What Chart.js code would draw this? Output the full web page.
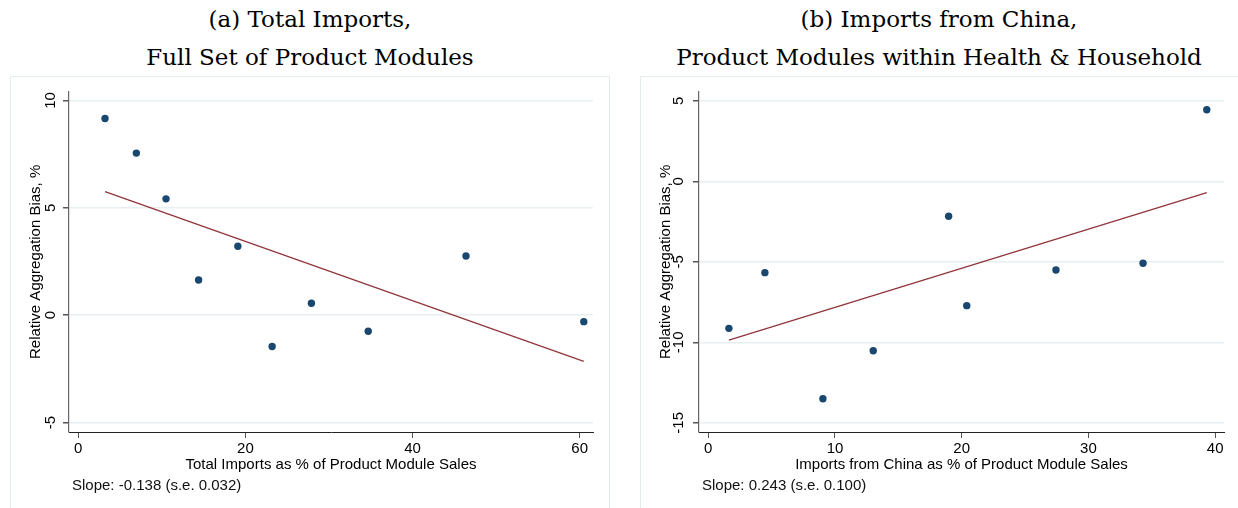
<!DOCTYPE html>
<html>
<head>
<meta charset="utf-8">
<script src="https://cdn.jsdelivr.net/npm/chart.js@4.4.1/dist/chart.umd.min.js"></script>
<style>
  html, body { margin: 0; padding: 0; background: #fff; }
  body { position: relative; width: 1238px; height: 508px; overflow: hidden;
         font-family: "Liberation Sans", Arial, sans-serif; }
  .frame { position: absolute; top: 76px; height: 470px; border: 1px solid #e4ecef; }
  .title { position: absolute; top: 0; text-align: center; color: #000;
           font-family: "DejaVu Serif", serif; font-size: 23px; line-height: 38px; white-space: nowrap; }
  canvas { position: absolute; top: 76px; }
  .note { position: absolute; top: 476px; font-size: 15px; line-height: 18px; color: #111; white-space: nowrap; }
</style>
</head>
<body>
<div class="title" style="left:10px;width:600px;">(a) Total Imports,<br>Full Set of Product Modules</div>
<div class="frame" style="left:10px;width:598px;"></div>
<canvas id="chartA" width="619" height="432" style="left:0px;"></canvas>
<div class="note" style="left:72px;">Slope: -0.138 (s.e. 0.032)</div>

<div class="title" style="left:640px;width:598px;">(b) Imports from China,<br>Product Modules within Health &amp; Household</div>
<div class="frame" style="left:640px;width:600px;"></div>
<canvas id="chartB" width="608" height="432" style="left:630px;"></canvas>
<div class="note" style="left:702px;">Slope: 0.243 (s.e. 0.100)</div>

<script>
// Panel (a): total imports share vs. relative aggregation bias
const importShareA = [3.2, 6.95, 10.5, 14.4, 19.1, 23.2, 27.9, 34.7, 46.4, 60.5];
const biasA        = [9.16, 7.55, 5.42, 1.64, 3.21, -1.46, 0.56, -0.75, 2.76, -0.30];
const slopeA = -0.138;
const interceptA = 6.20;
const xTicksA = [0, 20, 40, 60];
const yTicksA = [-5, 0, 5, 10];

// Panel (b): imports from China share vs. relative aggregation bias
const importShareB = [1.63, 4.47, 9.05, 13.02, 18.97, 20.4, 27.44, 34.31, 39.34];
const biasB        = [-9.13, -5.67, -13.5, -10.52, -2.17, -7.72, -5.51, -5.09, 4.45];
const slopeB = 0.243;
const interceptB = -10.26;
const xTicksB = [0, 10, 20, 30, 40];
const yTicksB = [-15, -10, -5, 0, 5];

const SANS = '"Liberation Sans", Arial, sans-serif';
Chart.defaults.font.family = SANS;
Chart.defaults.color = '#000';

const NAVY = '#1a476f';
const MAROON = '#90353b';

function scatterWithFit(canvasId, cfg) {
  const pts = cfg.xs.map((x, i) => ({ x: x, y: cfg.ys[i] }));
  const lo = Math.min(...cfg.xs), hi = Math.max(...cfg.xs);
  const fit = [lo, hi].map(x => ({ x: x, y: cfg.intercept + cfg.slope * x }));

  return new Chart(document.getElementById(canvasId), {
    type: 'scatter',
    data: {
      datasets: [
        { data: pts, pointRadius: 3.7, pointHoverRadius: 3.7, pointBackgroundColor: NAVY,
          pointBorderWidth: 0, showLine: false, order: 2 },
        { type: 'line', data: fit, borderColor: MAROON, borderWidth: 1.3, pointRadius: 0,
          fill: false, tension: 0, order: 1 }
      ]
    },
    options: {
      responsive: false,
      animation: false,
      events: [],
      layout: { padding: { left: 0, top: 15.7, right: cfg.rightPad, bottom: 26 } },
      plugins: { legend: { display: false }, tooltip: { enabled: false } },
      scales: {
        x: {
          type: 'linear', min: cfg.xMin, max: cfg.xMax,
          afterBuildTicks: s => { s.ticks = cfg.xTicks.map(v => ({ value: v })); },
          afterFit: s => { s.height = 50; },
          grid: { display: true, drawOnChartArea: false, drawTicks: true, tickLength: 6,
                  tickColor: '#555', lineWidth: 1 },
          border: { display: true, color: '#222', width: 1 },
          ticks: { font: { size: 15 }, color: '#000', padding: 2, maxRotation: 0, autoSkip: false },
          title: { display: true, text: cfg.xTitle, font: { size: 15 }, color: '#000',
                   padding: { top: 0, bottom: 8.6 } }
        },
        y: {
          type: 'linear', min: cfg.yMin, max: cfg.yMax,
          afterBuildTicks: s => { s.ticks = cfg.yTicks.map(v => ({ value: v })); },
          afterFit: s => { s.width = 69; },
          grid: { display: true, drawOnChartArea: true, drawTicks: true, tickLength: 6,
                  color: '#e8eff2', lineWidth: 1.5, tickColor: '#555' },
          border: { display: true, color: '#666', width: 1.2 },
          ticks: { font: { size: 15 }, color: '#000', padding: 3.5, minRotation: 90, maxRotation: 90,
                   crossAlign: 'center', autoSkip: false },
          title: { display: true, text: 'Relative Aggregation Bias, %', font: { size: 15 }, color: '#000',
                   padding: { top: 26.6, bottom: 0 } }
        }
      }
    }
  });
}

scatterWithFit('chartA', {
  xs: importShareA, ys: biasA, slope: slopeA, intercept: interceptA,
  xMin: -1.11, xMax: 61.6, yMin: -5.44, yMax: 10.41,
  xTicks: xTicksA, yTicks: yTicksA, rightPad: 26,
  xTitle: 'Total Imports as % of Product Module Sales'
});

scatterWithFit('chartB', {
  xs: importShareB, ys: biasB, slope: slopeB, intercept: interceptB,
  xMin: -0.73, xMax: 40.7, yMin: -15.57, yMax: 5.57,
  xTicks: xTicksB, yTicks: yTicksB, rightPad: 14,
  xTitle: 'Imports from China as % of Product Module Sales'
});
</script>
</body>
</html>
